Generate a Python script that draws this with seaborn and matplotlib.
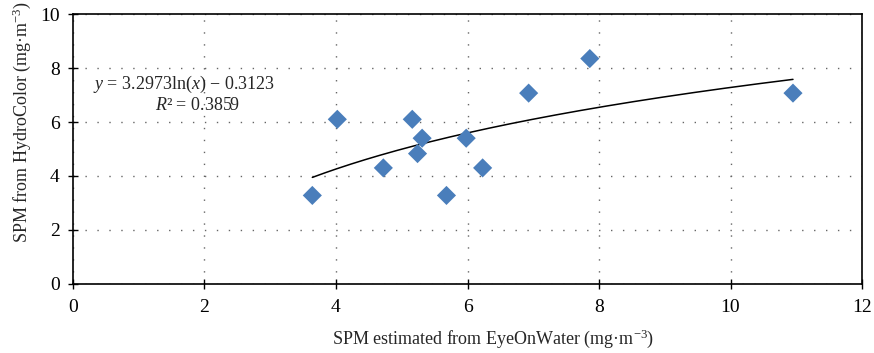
import numpy as np
import pandas as pd
import matplotlib
matplotlib.use("Agg")
import matplotlib.pyplot as plt
import seaborn as sns

# Data
eow_spm = [3.64, 4.02, 4.72, 5.16, 5.24, 5.31, 5.68, 5.98, 6.23, 6.93, 7.86, 10.95]
hc_spm = [3.28, 6.10, 4.30, 6.10, 4.83, 5.40, 3.28, 5.40, 4.30, 7.07, 8.35, 7.07]
fit_a = 3.2973
fit_b = -0.3123
r2 = 0.3859
x_ticks = [0, 2, 4, 6, 8, 10, 12]
y_ticks = [0, 2, 4, 6, 8, 10]

df = pd.DataFrame({"x": eow_spm, "y": hc_spm})

sns.set_theme(style="white")
plt.rcParams["font.family"] = ["Liberation Serif", "DejaVu Serif"]
plt.rcParams["mathtext.fontset"] = "custom"
plt.rcParams["mathtext.rm"] = "Liberation Serif"
plt.rcParams["mathtext.it"] = "Liberation Serif:italic"

fig = plt.figure(figsize=(8.74, 3.53), dpi=100)
ax = fig.add_axes([0.0835, 0.1955, 0.9028, 0.7648])

# trend line
xf = np.linspace(min(eow_spm), max(eow_spm), 200)
yf = fit_a * np.log(xf) + fit_b
sns.lineplot(x=xf, y=yf, ax=ax, color="black", linewidth=1.1, zorder=2)

sns.scatterplot(data=df, x="x", y="y", ax=ax, marker="D", s=95,
                color="#4a7ebb", edgecolor="none", linewidth=0, zorder=3)

ax.set_xlim(0, 12)
ax.set_ylim(0, 10)
ax.set_xticks(x_ticks)
ax.set_yticks(y_ticks)
ax.grid(True, color="#666666", linestyle=(0, (1, 7.6)), linewidth=1.0)
for s in ax.spines.values():
    s.set_color("black")
    s.set_linewidth(1.2)
ax.tick_params(axis="both", direction="inout", length=7, width=1.0,
               colors="black", labelsize=14, left=True, bottom=True)
ax.tick_params(axis="x", pad=7)
ax.tick_params(axis="y", pad=6)

ax.set_xlabel("SPM estimated from EyeOnWater (mg·m$^{-3}$)", fontsize=13)
ax.xaxis.set_label_coords(0.533, -0.16)
ax.set_ylabel("SPM from HydroColor (mg·m$^{-3}$)", fontsize=13)
ax.yaxis.set_label_coords(-0.051, 0.6)

ax.text(1.69, 7.38, r"$y$ = 3.2973ln($x$) − 0.3123", ha="center", va="center", fontsize=13)
ax.text(1.9, 6.6, r"$R$² = 0.3859", ha="center", va="center", fontsize=13)

fig.savefig("out.png", dpi=100)
